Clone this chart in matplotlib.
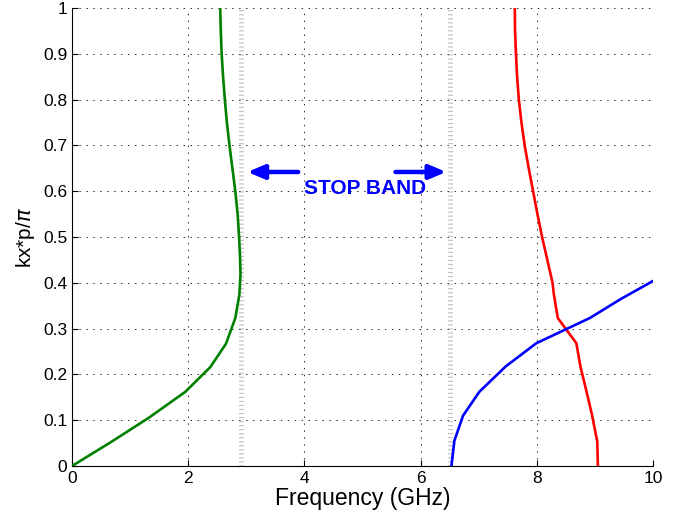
import matplotlib
matplotlib.use("Agg")
import matplotlib.pyplot as plt

plt.rcParams['font.family'] = ['Liberation Sans', 'DejaVu Sans']
plt.rcParams['lines.scale_dashes'] = False

# Green branch (first band)
green_f = [0.0, 0.68, 1.33, 1.95, 2.38, 2.65, 2.81, 2.88, 2.90, 2.89, 2.875, 2.85, 2.81, 2.76, 2.71, 2.665, 2.63, 2.60, 2.575, 2.56, 2.55]
green_k = [0.0, 0.053, 0.106, 0.162, 0.216, 0.267, 0.323, 0.374, 0.42, 0.46, 0.50, 0.55, 0.60, 0.65, 0.70, 0.75, 0.80, 0.85, 0.90, 0.95, 1.0]

# Red branch
red_f = [9.05, 9.04, 8.95, 8.85, 8.75, 8.68, 8.36, 8.29, 8.27, 8.18, 8.09, 8.01, 7.935, 7.86, 7.79, 7.735, 7.69, 7.66, 7.64, 7.625, 7.62]
red_k = [0.0, 0.053, 0.111, 0.165, 0.217, 0.268, 0.323, 0.377, 0.40, 0.45, 0.50, 0.55, 0.60, 0.65, 0.70, 0.75, 0.80, 0.85, 0.90, 0.95, 1.0]

# Blue branch
blue_f = [6.53, 6.58, 6.73, 7.01, 7.46, 7.99, 8.91, 9.45, 10.0]
blue_k = [0.0, 0.055, 0.11, 0.162, 0.217, 0.268, 0.323, 0.365, 0.404]

# Stop band edges
band_edges = [2.91, 6.51]

xticks = [0, 2, 4, 6, 8, 10]
yticks = [0, 0.1, 0.2, 0.3, 0.4, 0.5, 0.6, 0.7, 0.8, 0.9, 1.0]
ytick_labels = ['0', '0.1', '0.2', '0.3', '0.4', '0.5', '0.6', '0.7', '0.8', '0.9', '1']

fig = plt.figure(figsize=(6.86, 5.21), dpi=100)
ax = fig.add_axes([0.105, 0.1056, 0.847, 0.879])

for e in band_edges:
    ax.axvline(e, color='#c4c4c4', linewidth=3.5, linestyle=(0, (0.9, 2.0)), zorder=1)

ax.plot(green_f, green_k, color='#008000', linewidth=1.9, zorder=3)
ax.plot(red_f, red_k, color='#ff0000', linewidth=1.9, zorder=3)
ax.plot(blue_f, blue_k, color='#0000ff', linewidth=1.9, zorder=3)

ax.annotate('', xy=(2.97, 0.642), xytext=(3.94, 0.642),
            arrowprops=dict(arrowstyle='-|>,head_length=1.0,head_width=0.42', color='#0000ff', lw=3.2))
ax.annotate('', xy=(6.49, 0.642), xytext=(5.52, 0.642),
            arrowprops=dict(arrowstyle='-|>,head_length=1.0,head_width=0.42', color='#0000ff', lw=3.2))
ax.text(5.05, 0.605, 'STOP BAND', color='#0000ff', fontsize=15, fontweight='bold',
        ha='center', va='center')

ax.set_xlim(0, 10)
ax.set_ylim(0, 1)
ax.set_xticks(xticks)
ax.set_yticks(yticks)
ax.set_yticklabels(ytick_labels)
ax.tick_params(direction='in', labelsize=12.5, length=4, top=False, right=False)
ax.grid(True, color='black', linestyle=(0, (1, 4)), linewidth=0.6)
ax.spines['top'].set_visible(False)
ax.spines['right'].set_visible(False)
ax.set_xlabel('Frequency (GHz)', fontsize=16.5, labelpad=1)
ax.set_ylabel(r'kx*p/$\pi$', fontsize=15, labelpad=4)

fig.savefig('out.png', dpi=100)
